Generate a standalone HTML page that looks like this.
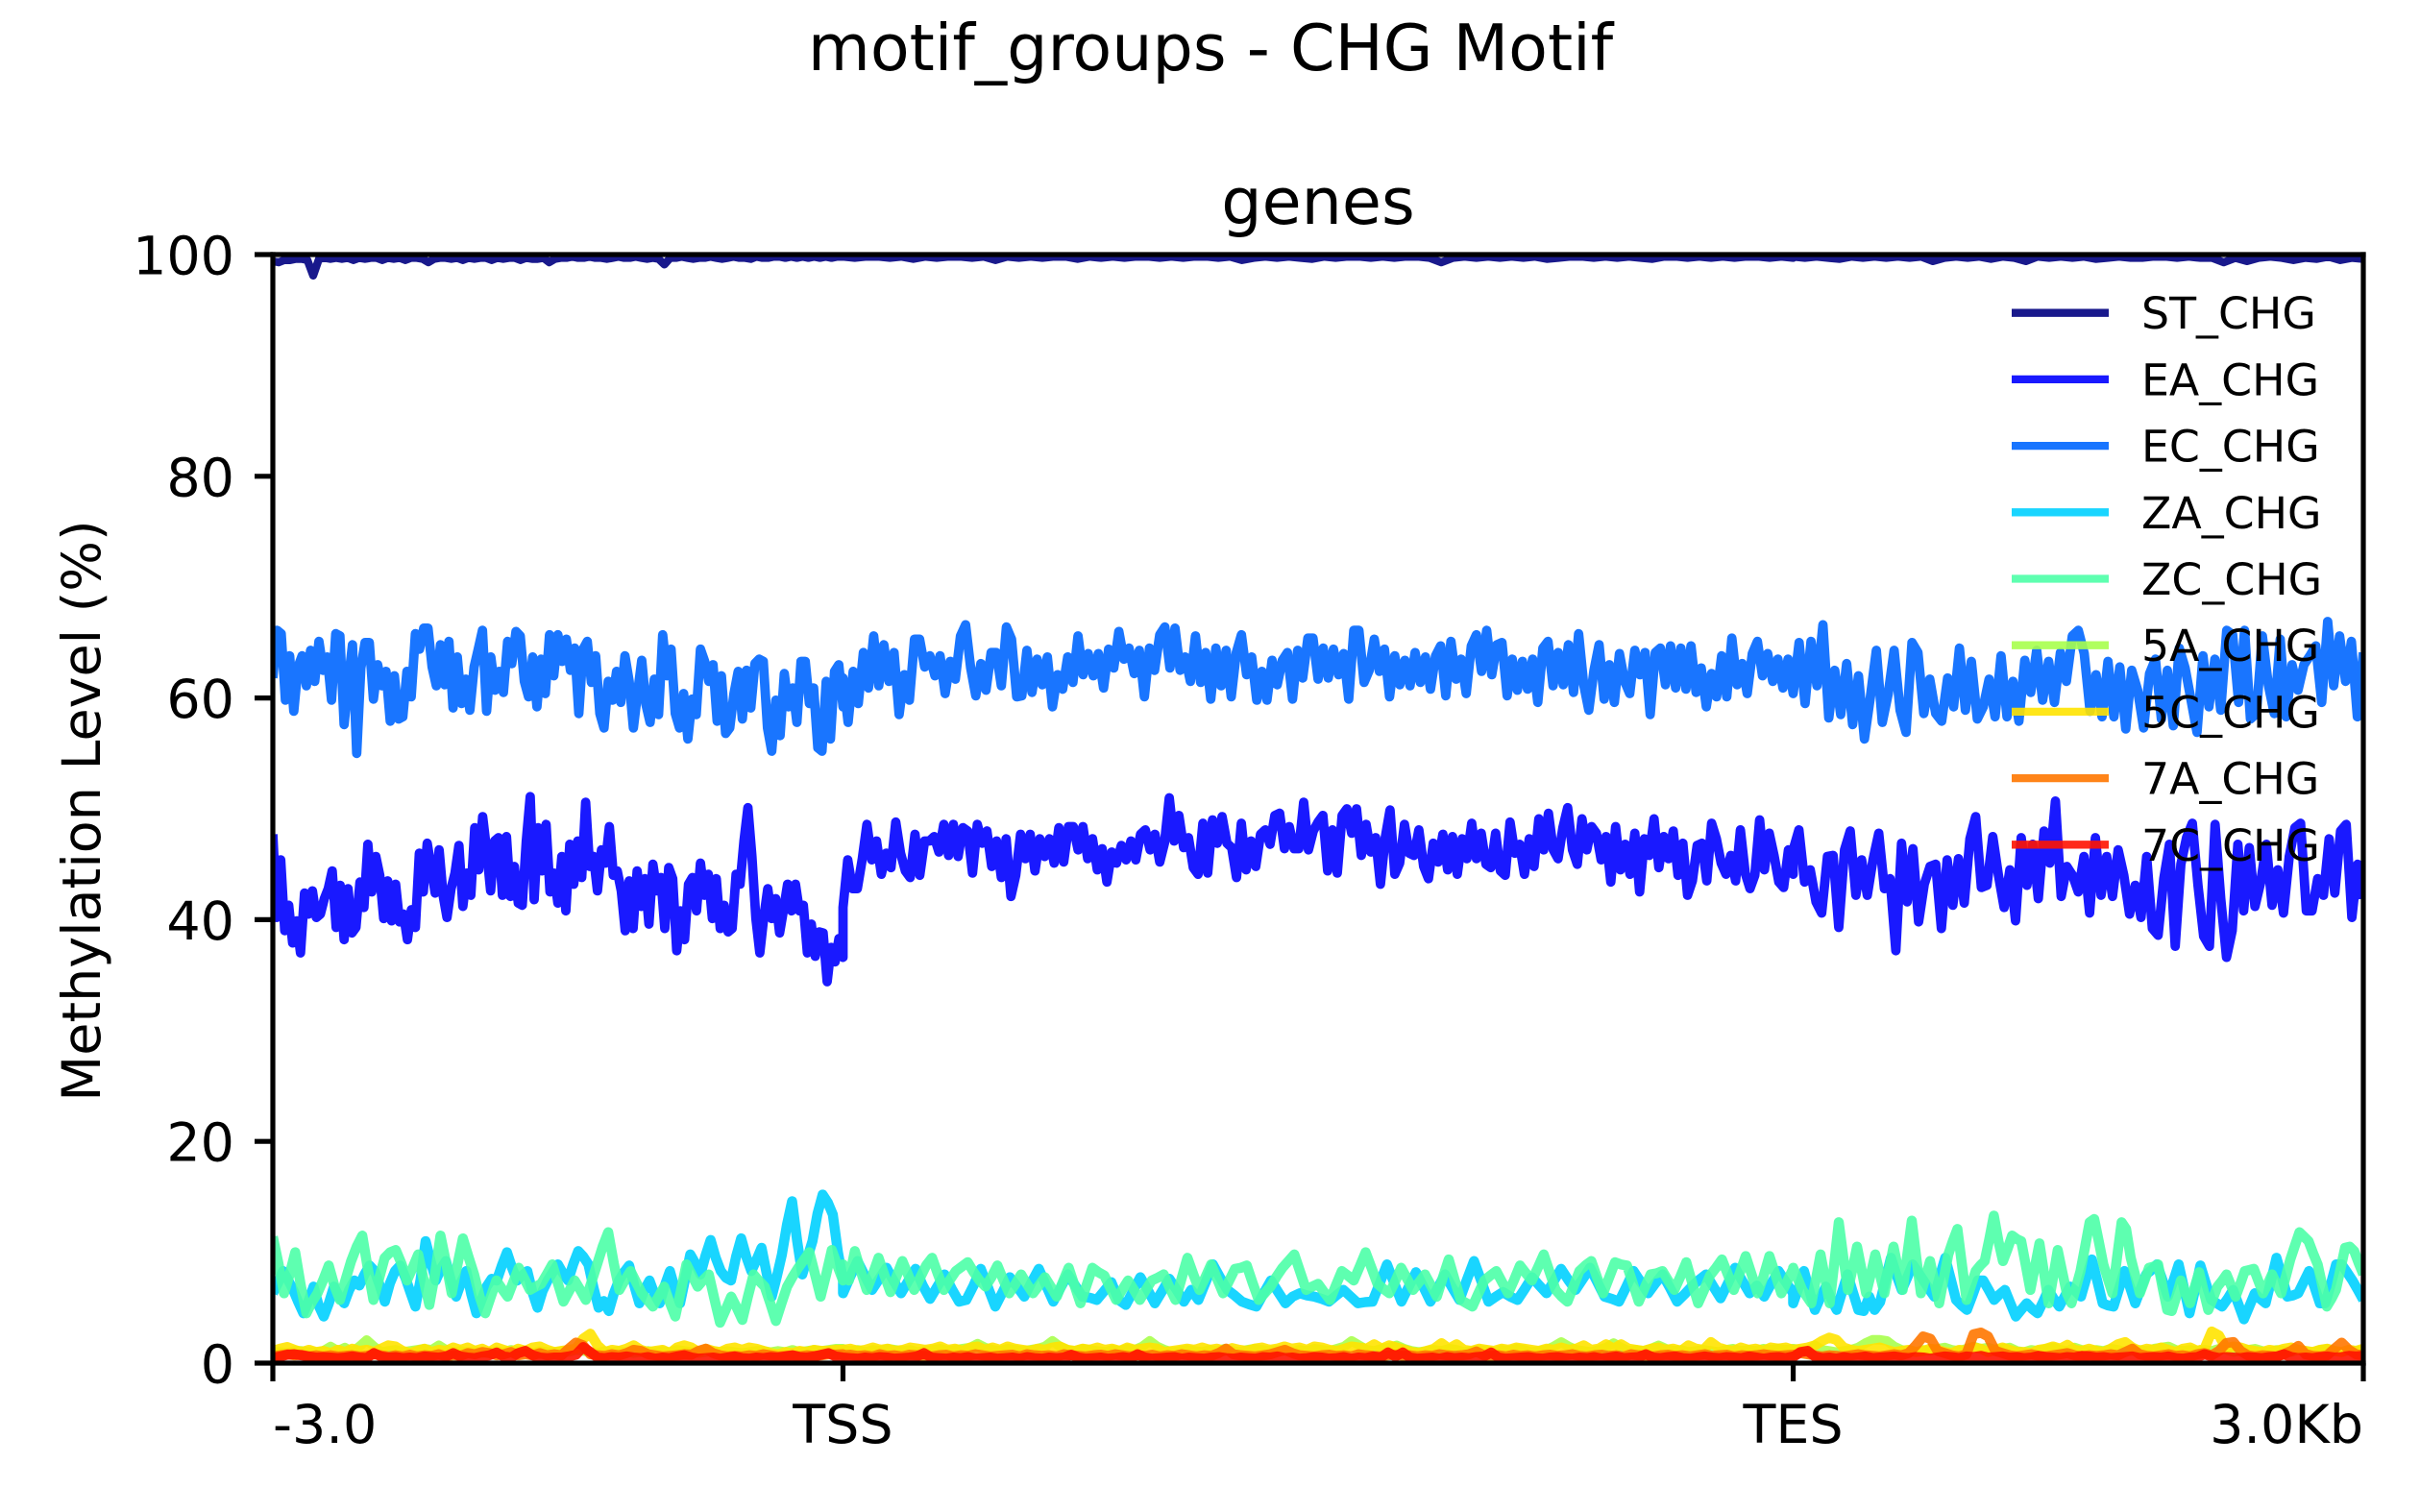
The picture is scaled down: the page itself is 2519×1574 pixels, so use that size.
<!DOCTYPE html>
<html lang="en">
<head>
<meta charset="utf-8">
<title>motif_groups - CHG Motif</title>
<style>
html,body{margin:0;padding:0;background:#fff;}
svg{display:block;}
text{font-family:"DejaVu Sans","Liberation Sans",sans-serif;fill:#000;}
</style>
</head>
<body>
<svg id="chart" xmlns="http://www.w3.org/2000/svg" width="2519" height="1574" viewBox="0 0 2519 1574">
  <rect x="0" y="0" width="2519" height="1574" fill="#ffffff"/>
  <defs><clipPath id="plot-clip"><rect x="284" y="265" width="2176" height="1154"/></clipPath></defs>
  <text x="1260" y="73" font-size="66.7" text-anchor="middle">motif_groups - CHG Motif</text>
  <text x="1372" y="233" font-size="66.7" text-anchor="middle">genes</text>
  <text transform="translate(104,844) rotate(-90)" font-size="55.5" text-anchor="middle">Methylation Level (%)</text>
  <g id="series-layer" clip-path="url(#plot-clip)"></g>
  <g id="axis-layer"></g>
  <g id="legend-layer"></g>
</svg>
<script>
const yTickValues=[0,20,40,60,80,100];
const xTickKb=[0,3,8,11];
const xTickLabels=["-3.0","TSS","TES","3.0Kb"];
const xTickAnchors=["start","middle","middle","end"];
const seriesNames=["ST_CHG","EA_CHG","EC_CHG","ZA_CHG","ZC_CHG","5A_CHG","5C_CHG","7A_CHG","7C_CHG"];
const seriesColors=["#000080","#0000ff","#0066ff","#00d0ff","#4dffa7","#a7ff4d","#ffe300","#ff7700","#ff1300"];
const seriesStrokeWidths=[8.3,9.8,9.8,10.5,10.5,10,10.5,10.5,10.5];

const ST_up=[99.4,99.3,99.5,99.5,99.6,99.6,99.5,98.1,99.6,99.7,99.6,99.7,99.6,99.7,99.5,99.7,99.6,99.7,99.7,99.5,99.7,99.6,99.7,99.5,99.7,99.7,99.6,99.3,99.6,99.7,99.7,99.6,99.7,99.5,99.7,99.6,99.7,99.7,99.5,99.7,99.6,99.7,99.7,99.5,99.7,99.6,99.6,99.7,99.3,99.6,99.7,99.7,99.8,99.7,99.7,99.8,99.7,99.7,99.6,99.7,99.8,99.7,99.7,99.8,99.7,99.6,99.7,99.6,99.1,99.7,99.7,99.8,99.7,99.6,99.7,99.7,99.8,99.7,99.6,99.7,99.8,99.7,99.7,99.6,99.8,99.7,99.7,99.8,99.8,99.7,99.8,99.7,99.8,99.7,99.8,99.7,99.8,99.7,99.8,99.8];
const ST_body=[99.8,99.7,99.8,99.8,99.7,99.8,99.6,99.8,99.7,99.8,99.8,99.7,99.8,99.5,99.8,99.7,99.8,99.7,99.8,99.8,99.6,99.8,99.7,99.8,99.7,99.8,99.8,99.7,99.8,99.7,99.8,99.8,99.7,99.8,99.5,99.7,99.8,99.7,99.8,99.7,99.6,99.8,99.7,99.8,99.8,99.7,99.8,99.7,99.8,99.8,99.7,99.3,99.7,99.8,99.7,99.8,99.7,99.8,99.7,99.8,99.6,99.7,99.8,99.8,99.7,99.8,99.7,99.8,99.7,99.6,99.8,99.8,99.7,99.8,99.7,99.8,99.7,99.8,99.8,99.7,99.8,99.7];
const ST_down=[99.8,99.7,99.8,99.7,99.6,99.8,99.7,99.8,99.7,99.8,99.7,99.8,99.4,99.7,99.8,99.7,99.8,99.6,99.8,99.7,99.4,99.8,99.7,99.8,99.7,99.8,99.6,99.7,99.8,99.7,99.7,99.8,99.8,99.7,99.8,99.7,99.7,99.3,99.7,99.4,99.7,99.8,99.7,99.5,99.7,99.6,99.8,99.5,99.7,99.6];

const EA_up=[47.7,40.2,45.4,39.0,41.3,37.9,39.9,37,42.4,40.5,42.6,40.2,40.5,41.9,42.8,44.4,39.3,43.1,38.2,42.8,38.8,39.3,43.4,41.1,46.8,42.5,45.7,44,40.1,43.5,39.9,43.2,39.8,40.5,38.2,40.9,39.3,46,42.5,46.9,44.7,42.4,46.3,42.2,40.2,42.8,44.2,46.7,41.2,44.2,42.2,48.3,44.5,49.3,46.3,42.6,47.1,47.4,42.2,47.5,42.1,44.8,41.5,41.3,47.1,51.1,41.8,48.3,44.4,48.6,42.5,44.2,41.5,45.7,40.8,46.8,43.2,47.1,43.8,50.6,44.8,45.7,42.6,46.3,45.1,48.4,44,44.4,42.6,39,43.5,39.2,44.4,41.2,43.7,39.6,45,42.6,43.8,39.2,44.7,43.7,37.2,40.8,38.2,43.2,43.8,40.8,45.1,42.2,44.1,40.1,43.7,39.2,41.3,38.9,39.2,44.1,43.2,47.1,50.1,45.7,40.1,37,40.2,42.8,40.1,41.9,38.8,40.9,43.2,40.8,43.2,40.8,41.3,37,39.6,36.7,38.9,38.8,34.4,37.5,36.2,38.3,36.6];
const EA_body=[41.1,45.4,42.8,42.8,45.4,48.6,45.4,47.1,44.1,46,44.7,48.8,46,44.4,43.8,47.7,44,47.1,47.1,47.5,46.1,48.6,45.8,48.6,45.7,48.3,48,44.2,48.6,46.9,48,44.8,47.1,43.8,47.3,42.1,44,47.7,45.5,47.7,44.4,47.3,45.7,47.3,45.1,48.3,45.2,48.4,48.4,46.3,48.4,45.5,47.3,44.5,46.4,43.4,46.1,45.1,46.7,45.4,47.1,45.4,47.7,48.1,46.3,47.7,45.2,46.9,51,47.1,49.4,46.5,47.4,44.7,44.1,48.7,44.2,49,46.9,49.3,46.9,46.5,43.8,48.7,44.5,47.1,44.8,47.7,48.1,46.8,49.4,49.6,46.4,48.4,46.4,46.4,50.6,46.3,48,48.8,49.4,44.4,48.1,44.2,49.4,50,47.8,50,45.8,48.6,46.1,47.4,43.2,47.4,49.9,44.1,45.1,48.6,46,45.8,48.1,44.8,43.7,46.9,45.2,47.7,44.5,47.5,44.1,47.3,45.5,48.7,45.5,47.8,45,44.7,47.8,44.4,44,48.8,46,46.8,44.1,47.3,44.8,49.1,46.3,49.6,46.3,45.5,48.3,50.1,46.3,45,49.1,46.3,48.4,47.8,45.4,47.5,43.4,48.4,44.5,46.8,44.1,47.8,42.5,47.3,45.8,49.1,44.7,47.5,45.5,48,44,46.9,42.2,43.5,46.7,46.9,43.5,48.7,47.3,45.1,44.1,45.8,43.5,48.1,44.2,42.8,44,49,44.5,47.8,45.8,43.4,42.9,46.3,44.1];
const EA_down=[46.3,48.1,43.4,44.5,41.6,40.6,45.7,45.8,39.3,46.3,48,42.2,45.4,42.2,45.4,47.8,42.8,43.7,37.2,46.9,41.6,46.4,39.8,43.2,44.8,45,39.2,45.4,41.3,45.5,41.5,47.3,49.3,42.9,43.1,47.5,44,41.1,44.5,39.9,47.4,43.1,46.8,41.9,48,45.1,50.7,42.1,44.8,44,42.5,45.7,40.6,47.4,42.2,45.7,42.1,46.3,44,40.5,43.1,40.2,45.7,39.2,38.6,43.7,46.8,37.6,45,47.4,48.7,43.1,38.5,37.6,48.6,41.9,36.6,39,46.8,40.8,46.5,41.2,43.4,46.8,41.3,44.5,40.6,45.7,48.3,48.7,40.8,40.8,43.7,42.2,47.3,42.4,48,48.6,40.2,45,41.9];

const EC_up=[61.8,66.1,65.8,59.8,63.8,58.8,62.8,63.8,61.1,64.3,61.5,65.1,62.5,63.7,59.8,65.8,65.6,57.6,61.4,64.8,55,62.7,65,65,59.9,63,61.1,62.4,57.9,62,58.1,58.3,62.4,60.1,65.8,64.4,66.3,66.3,62.8,61.1,64.8,61.2,65.1,59.1,63.7,59.5,61.7,58.9,62.8,64.4,66.1,58.8,63.7,60.7,62.4,60.5,65.1,63.1,66,65.6,61.5,60.1,63.7,59.2,63.5,60.4,65.7,62,65.7,63.3,65.3,62.5,64.5,58.6,64.4,65.1,61.4,63.8,58.6,57.3,61.5,59.8,62.4,59.6,63.8,61.5,57.3,60.4,63.4,59.4,57.8,61.7,58.5,65.7,62,64.4,58.6,57.3,60.4,56.3,59.9,58.5,64.4,63.3,61.5,63,57.9,62,56.8,57.3,60.4,62.4,58.1,62.5,59.1,63.1,63.5,63.3,57.3,55.2,59.8,56.6,62.2,59.2,60.9,57.8,63.3,63.3,59.5,60.9,55.5,55.2,61.5,56.3,62.4,63,59.2];
const EC_body=[61.8,57.8,62.4,59.5,64.1,60.9,65.6,61.1,64.8,61.5,64.1,58.5,62.1,59.8,65.3,65.3,62.8,63.8,62,63.8,60.4,63.3,61.7,65.6,66.6,62.7,60.2,63.1,60.7,64.1,64.1,61.1,66.4,65.3,60.1,60.2,64.3,60.5,63.5,61.2,63.7,59.2,62.1,60.8,63.7,61.4,65.6,62.1,64,62,64,60.9,64.4,62.7,66,63.5,64.5,62.2,64.3,60.1,64.5,62.5,65.7,66.4,62.7,66.3,62.5,63.7,61.5,65.6,61.4,64.1,59.9,64.5,61.1,64.3,60.1,64.1,65.7,62.1,63.7,59.8,62.4,59.8,63.4,61.2,63.4,64.1,59.9,64.3,61.8,65.4,65.4,61.7,64.5,61.8,64.4,62.1,64,59.9,66.1,66.1,61.4,62.5,65.3,62.4,64.4,60.1,63.8,61.2,63.4,61.1,64.1,61.4,63.7,60.8,63.8,64.7,60.2,65.1,61.7,63.5,60.4,64.7,65.7,62.4,66.1,62.1,64.8,65,60.2,63.5,60.7,63.3,60.8,63.5,59.6,64.5,65.1,61.1,64.1,61.2,64.8,60.5,65.8,61.2,58.9,62.5,64.8,59.9,63,59.6,64,61.5,60.4,64.3,62.1,64.1,58.5,64.1,64.5,61.2,64.7,60.9,64.5,60.8,64.7,60.5,62.7,59.2,62.2,60.1,63.8,60.1,65.4,61.2,63.1,60.4,64,65.1,62,64,61.5,63.5,60.9,63.5,60.4];
const EC_down=[60.4,65,59.5,65.1,61.1,66.6,58.2,62.5,58.5,63.1,57.6,62,56.3,60.1,64.3,57.8,60.4,64.3,58.9,56.9,65,64.1,58.6,61.7,58.6,57.9,61.8,59.2,64.5,58.9,63.3,58.1,59.2,61.7,58.3,63.8,58.3,61.5,57.9,63.4,60.5,64.3,59.8,63.3,59.6,64.1,61.5,65.6,66.1,64,58.8,62.1,58.3,63.3,58.3,62.8,57.2,62.5,60.7,57.3,62.2,63.5,58.1,62.5,57.5,64.5,62.7,59.8,56.9,63.8,59.2,63.5,58.9,66.1,65.7,59.6,66.1,58.1,58.6,65.6,61.2,58.6,65.3,58.3,63,60.7,63,63.8,64.7,59.6,66.9,61.1,65.6,61.5,65.1,58.3,64.1];

const ZA_up=[6.3,7.2,8.3,7.5,6.6,5.5,4.5,5.6,6.9,5.2,4.2,5.4,6.9,6.0,5.4,6.6,7.45,7.0,8,8.8,8.3,7.0,5.55,7.2,8.3,8.8,7.75,6.4,5.1,7.5,11,9.2,7.45,8.5,9.2,7.4,6,7.3,8.3,6.2,4.5,5.7,6.9,7.6,7.45,8.8,10,8.6,7.45,7.9,8.3,6.4,5,6.5,7.45,8.2,8.9,8.1,7.45,8.9,10.1,9.6,8.9,6.8,5,5.6,4.7,6.3,7.45,8.2,8.8,7.0,5.4,6.6,7.45,6.2,5.4,7,8.3,6.7,5.4,7.6,9.8,9,8,9.7,11.1,9.5,8.3,7.7,7.45,9.6,11.25,9.6,8.3,9.3,10.4,8.1,6,7.8,9.8,12.5,14.6,11,8,9.5,11,13.5,15.2,14.5,13.4,10,7.5];
const ZA_body=[6.3,7.8,9.2,7.9,6.6,7.6,8.6,7.4,6.3,7.4,8.5,7,5.8,6.9,8,6.7,5.55,5.7,7,8.5,6.8,5.1,6.4,7.75,6.9,6,7.3,8.5,7,5.55,6.8,8,7,6,5.9,5.7,6.5,7.3,5.7,5.25,6.5,7.75,6.6,5.4,6.5,7.6,6.6,5.55,6.6,5.7,7.3,8.9,7.7,6.6,6.1,5.55,5.3,5.1,6.3,7.45,6.4,5.4,6,6.3,6.1,6,5.8,5.55,6.1,6.6,6,5.4,5.5,5.55,7.2,8.9,7.2,5.55,6.9,8.2,6.9,5.55,6.8,8,6.8,5.7,7.5,9.2,7.4,5.55,6,6.4,6,5.7,6.7,7.75,7,6.3,7.4,8.5,7.5,6.6,7.6,8.6,7.3,6,5.8,5.55,6.9,8.3,7.3,6.3,7.2,8,6.8,5.55,6.2,6.9,7.5,8,6.9,5.85,7.2,8.6,7.4,6.3,7,6,7.2,8.3,7.3,6.3];
const ZA_down=[5.4,6.8,8.3,6.5,4.8,5.9,6.9,5.8,4.8,6.4,8,6.4,4.8,4.7,6,4.8,5.5,7.5,9.5,8,6.6,7.7,8.9,8.2,7.45,6.7,6,7.8,9.5,7.6,5.7,5.2,4.8,6.1,7.45,7.45,6.6,5.7,6.2,6.6,5.4,4.2,4.8,5.4,4.9,4.5,5.5,6.6,5.8,5.1,6,6.9,6.5,6,7.7,9.35,7.4,5.4,5.2,5.1,6.7,8.3,6.9,5.4,6.7,8,8.4,8.9,7.5,6,7.4,8.9,6.7,4.5,6.6,8.8,7.2,5.7,5.4,5.1,5.8,6.6,5.3,3.95,5.1,6.3,5.8,5.4,7.4,9.5,7.8,6,6.1,6.3,7.3,8.3,6.9,5.4,5.4,7.1,8.9,8.9,8.2,7.45,6.6,5.7];

const ZC_up=[11.4,9,6.3,8,10,7,4.5,5.5,6.3,7.5,8.8,7,5.7,7.5,9.2,10.5,11.5,8.5,5.7,7.6,9.5,10,10.2,9,7.45,8.6,9.8,7.5,5.25,8,11.5,9,6.3,8.8,11.25,9.6,8,6,4.5,6,7.45,6.7,6,7.3,8.6,7.6,6.6,6.9,7.15,8,8.9,7.2,5.55,6.5,7.45,6.6,5.7,7.3,8.9,10.5,11.8,9,6.6,7.5,8.3,7.3,6.3,5.7,5.1,6,6.9,5.5,4.2,6.5,8.9,7.9,6.9,7.5,8,5.8,3.65,4.8,6,5,3.9,6,8,7.4,6.9,5.4,3.8,5.4,6.9,7.8,8.6,9.3,10,8,6,8,10.2,8.8,7.45];
const ZC_body=[8.9,7.45,10.1,8.3,6.6,8,9.5,7.9,6.4,7.8,9.2,7.9,6.6,7.7,8.8,9.5,8,6.6,7.5,8.3,8.7,9.1,8.2,7.45,6.9,7.75,8.8,7.5,6.3,7.1,8,7.1,6.3,7,7.75,6.9,6,7.3,8.6,7,5.4,7,8.6,8.2,7.9,6.8,5.7,6.6,7.45,6.6,5.7,6.6,7.45,7.7,8,6.8,5.7,7.6,9.5,8,6.6,7.7,8.9,7.6,6.3,7.4,8.5,8.6,8.8,7.2,5.7,6.3,6.9,7.8,8.6,9.2,9.8,8.2,6.6,6.9,7.15,6.4,5.7,7,8.3,7.9,7.45,8.7,10,8.6,7.15,6.7,6.3,7.4,8.6,7.6,6.6,7.3,8,7,6,7.7,9.35,7.5,5.7,5.4,5.1,6.3,7.45,7.9,8.3,7.3,6.3,7.5,8.8,8.1,7.45,8.6,9.8,8.2,6.6,6,5.55,6.9,8.3,8.8,9.2,7.7,6.3,7.7,9.1,8.9,8.8,7.2,5.55,6.8,8,8.1,8.3,7.4,6.6,7.8,9.1,7.2,5.4,6.6,7.9,8.6,9.35,8,6.6,8.1,9.65,8,6.3,7.8,9.65,8,6.3,7.4,8.5];
const ZC_down=[8.6,7.6,6.6,6,5.4,7.6,9.8,7.6,5.4,9,12.7,9.5,6.6,8.5,10.5,8.4,6.3,8,9.8,8,6.3,8.4,10.5,8.5,6.6,9.7,12.85,9.5,6.3,7.7,9.2,7.3,5.4,7.6,9.8,11,12.1,8.9,5.7,7,8.3,8.8,9.2,11.2,13.3,11,9.2,10.3,11.5,11.2,11,8.8,6.6,8.7,10.8,8.1,5.4,7.8,10.2,8.2,6.3,5.4,6.8,8.3,10.5,12.7,13,11,8.9,7.6,6.3,9.5,12.7,12.1,9.5,7.9,6.3,7.4,8.6,8.7,8.9,6.8,4.8,4.7,6,7.45,6.4,5.4,6.8,8.2,6.5,4.8,5.8,6.9,7.4,8,7,6,7.1,8.3,8.4,8.5,7.4,6.3,7.1,8,7.1,6.3,7.8,9.35,10.6,11.8,11.4,11,9.9,8.9,7,5.1,5.8,6.6,8.5,10.4,10.5,10.1,9,8];

const A5_up=[1,1,.9,1.1,1.1,1,1,1.1,1.5,1.1,1.4,1,1.5,2.08,1.5,1,1.1,1.2,1,1.1,1.2,1.3,1.2,1.6,1.2,1,1.1,1,1.1,.9,1,1.1,1,1.2,1.1,1,.9,1.1,1,1,1.1,1,1.2,1.1,1,.9,1.1,1,1.1,1,.9,1,1.1,1,1.1,1,1.2,1.1,1,.9,1,1.1,1,1.1,1,.9,1,1.1,1.1,1,1.1,1,1.2,1,1.1,1.2,1.1,1.2,1.3,1.3];
const A5_body=[1.2,1.1,1.2,1,1.2,1.1,1.3,1.2,1.1,1.2,1,1.1,1.2,1.3,1.1,1.2,1.3,1.4,1.75,1.4,1.2,1.1,1.3,1.2,1.1,1.2,1.3,1.5,2,1.5,1.2,1.1,1.3,1.2,1.1,1,1.2,1.1,1.3,1.2,1.5,2,1.5,1.2,1,1.1,1.2,1.1,1,1.2,1.1,1.3,1.1,1,1.2,1.3,1.2,1.1,1.2,1.1,1,1.2,1.1,1.3,1.2,1.1,1.3,1.5,2,1.6,1.2,1.1,1.3,1.4,1.6,1.3,1.1,1,1.1,1.2,1.1,1.3,1.2,1,1.1,1.2,1.1,1,1.2,1.1,1.3,1.2,1,1.1,1.2,1.5,1.9,1.5,1.2,1.1,1,1.2,1.4,1.8,1.4,1.1,1.2,1.1,1.3,1.6,1.3,1.1,1.2,1,1.1,1.2,1.1,1,1.2,1.3,1.1,1.2,1.1,1.3,1.2,1.3,1.2,1.3];
const A5_down=[1.3,1.2,1.1,1.6,1.2,1.1,1,1.1,1.2,1.4,1.8,2.1,2.1,2,1.5,1.2,1.1,1,1.2,1.1,1.3,1.4,1.2,1.1,1.3,1.5,1.3,1.4,1.2,1.3,1.4,1.1,1,1.2,1.1,1.3,1.4,1.2,1.1,1.4,1.2,1.1,1.2,1.1,1.3,1.2,1,1.1,1.2,1.1,1.3,1.4,1.5,1.2,1.1,1.2,1.1,1.2,1.1,1.3,1.2,1,1.1,1.2,1.3,1.1,1,1.2,1.1,1,1.2,1.1,1,1.2,1.3,1.1,1,1.2,1.1,1.2];
const C5_up=[1.1,1.3,1.45,1.2,1,1.2,1,1.1,.9,1.2,1,1.3,1.1,1.2,1,1.3,1.6,1.5,1.1,.9,1.1,1.3,1,1.2,1.1,1.4,1.2,1.4,1.1,1.3,1,1.4,1.2,1,1.3,1.1,1.4,1.5,1.2,1,1.1,1.2,1.3,2.2,2.65,1.6,1,1.2,1.1,1.3,1.6,1.2,1,1.1,1.2,.9,1.4,1.6,1.4,1,1.3,1.1,1,1.3,1.4,1.2,1.4,1.3,1.1,.9,.8,1,.9,1.1,1,1.2,1.1,1.1,1.2,1.2];
const C5_body=[1.2,1.3,1.1,1.2,1.4,1.2,1.3,1.1,1.2,1.4,1.3,1.2,1.3,1.5,1.2,1.3,1.1,1.4,1.5,1.2,1.4,1.2,1.5,1.3,1.2,1.1,1.3,1.2,1.4,1.5,1.2,1.1,1.3,1.2,1.4,1.2,1.3,1.1,1.4,1.2,1.3,1.4,1.3,1,1.1,1.2,1.3,1.2,1.4,1.2,1.3,1.1,1.35,1.2,1.1,1.3,1.4,1.2,1.3,1.5,1.3,1.4,1.2,1.5,1.4,1.2,1.1,1.3,1.5,1.4,1.3,1.7,1.3,1.6,1.4,1.2,1,.9,1.1,1.3,1.8,1.3,1.7,1.2,1.1,1.3,1.2,1.1,1.3,1.2,1.4,1.3,1.2,1.1,1.3,1.2,1.4,1.2,1.3,1.6,1.2,1.3,1.7,1.3,1.7,1.3,1.2,1.1,1.3,1.4,1.2,1.3,1.1,1.6,1.3,1.2,1.9,1.4,1.2,1.1,1.4,1.2,1.3,1.1,1.4,1.3,1.4,1.2];
const C5_down=[1.2,1.3,1.4,1.6,2,2.3,2.1,1.4,1.2,1.1,1.2,1.3,1.4,1.2,1,1.1,1.2,1,1.1,1.3,1.2,1,.9,1.2,1.1,1.4,1.3,1,1.2,1.4,1.2,1,1,.9,1.2,1.3,1.5,1.3,1.65,1.2,1.1,1.3,1.1,1,1.3,1.7,1.9,1.4,1.1,1.3,1.2,1.4,1.2,1,1.3,1.4,1.1,1.3,2.85,2.5,1.3,1.5,1.4,1.2,1.1,1,1.2,1.1,1.3,1.4,1.2,1.1,1,1.2,1.3,1.1,1,1.2,1.1,1.3];
const A7_up=[.6,.7,.8,.7,.75,.6,.7,.6,.7,.6,.65,.7,.6,.65,.8,.7,.6,.7,.6,.75,.6,.7,.65,.8,.6,.7,.65,.9,.8,1,.9,.7,.8,1,.7,.8,.7,.9,.7,.8,.7,1.3,1.85,1.6,.8,.7,.65,.8,.7,.9,1.2,1.1,.8,.7,.6,.65,.7,.8,.75,1.1,1.3,.9,.7,.6,.65,.6,.7,.65,.8,.7,.6,.65,.7,.6,.7,.65,.7,.8,.75,.8];
const A7_body=[.7,.75,.65,.7,.6,.8,.65,.7,.6,.75,.7,.65,.6,.7,.75,.6,.7,.65,.8,.7,.6,.65,.7,.75,.6,.8,.7,.65,.7,.6,.8,.7,.65,.6,.7,.75,.65,.8,.7,.6,.7,.65,.75,.6,.7,.65,.8,.7,.6,.7,.65,.9,1.3,.8,.7,.65,.6,.7,.8,1,1.2,.9,.7,.65,.6,.7,.75,.65,.7,.6,.8,.7,.65,.6,.7,.75,.65,.7,.6,.7,.65,.8,.7,.65,.7,.8,1.05,.7,.65,.7,.6,.75,.65,.7,.6,.7,.75,.65,.7,.8,.65,.6,.7,.75,.65,.7,.6,.8,.7,.65,.6,.7,.75,.65,.7,.6,.7,.8,.65,.7,.75,.6,.7,.65,.7,.8,.7,.65,.7,.75];
const A7_down=[.7,.9,.8,.7,.6,.7,.65,.6,.7,.8,.7,.65,.6,.7,.8,.7,.9,1.6,2.4,2.2,1.1,.9,.7,.6,.8,2.6,2.75,2.4,1.1,.9,.7,.6,.7,.8,.65,.6,.7,.8,.9,.7,.6,.7,.65,.7,.8,.7,1,1.3,.8,.65,.6,.7,.8,.65,.7,.6,.8,.9,.7,1.1,1.8,1.9,1.1,.7,.6,.7,.65,.6,.8,1.1,1.55,.8,.65,.6,.7,1.3,1.85,1.2,.8,.7];
const C7_up=[.45,.6,.75,.8,.7,.6,.5,.55,.5,.45,.5,.6,.5,.45,.9,.6,.5,.55,.45,.5,.45,.6,.55,.5,.6,.9,.6,.5,.45,.6,.7,.95,.6,.5,.9,1.1,.7,.5,.45,.5,.5,.6,.75,1.45,1,.5,.45,.55,.5,.6,.5,.45,.55,.4,.5,.45,.6,.7,.5,.4,.45,.5,.4,.5,.6,.45,.4,.5,.45,.55,.5,.6,.7,.55,.5,.6,.75,.9,.6,.5];
const C7_body=[.5,.45,.4,.5,.45,.55,.5,.4,.45,.5,.6,.9,.5,.45,.4,.5,.45,.55,.4,.45,.5,.4,.45,.5,.4,.55,.45,.4,.5,.45,.5,.75,.5,.4,.45,.5,.4,.45,.55,.45,.8,.5,.4,.45,.5,.55,.4,.5,.45,.4,.5,.55,.45,.4,.5,.45,.4,.55,.5,.6,.45,.5,.4,.45,.55,.5,.4,.45,.55,.4,.5,.45,.6,.5,.95,.6,.95,.5,.4,.45,.5,.4,.55,.45,.5,.45,.55,.6,.95,.5,.4,.45,.5,.55,.45,.4,.5,.55,.45,.4,.5,.45,.55,.4,.5,.6,.45,.5,.55,.8,.5,.45,.55,.6,.45,.4,.5,.6,.5,.45,.55,.5,.45,.6,.5,.4,.5,.55,.45,.6];
const C7_down=[.55,1,1.1,.6,.45,.5,.4,.55,.45,.5,.6,.45,.5,.55,.6,.5,.45,.55,.5,.4,.5,.6,.55,.45,.6,.55,.65,.5,.55,.6,.5,.55,.45,.5,.65,.55,.5,.45,.55,.5,.65,.6,.5,.55,.45,.5,.55,.6,.45,.5,.55,.5,.6,.45,.4,.5,.55,.8,.6,.45,.55,.5,.45,.55,.5,.45,.55,.6,.8,.55,.45,.5,.45,.55,.6,.5,.55,.65,.6,.65];

const seriesSegments=[
  [ST_up,ST_body,ST_down],[EA_up,EA_body,EA_down],[EC_up,EC_body,EC_down],
  [ZA_up,ZA_body,ZA_down],[ZC_up,ZC_body,ZC_down],[A5_up,A5_body,A5_down],
  [C5_up,C5_body,C5_down],[A7_up,A7_body,A7_down],[C7_up,C7_body,C7_down]
];

const NS="http://www.w3.org/2000/svg";
const PLOT={left:284,right:2460,top:265,bottom:1419};
const KB_TOTAL=11;
function xScale(kb){return PLOT.left+(kb/KB_TOTAL)*(PLOT.right-PLOT.left);}
function yScale(v){return PLOT.bottom-(v/100)*(PLOT.bottom-PLOT.top);}
function segmentSpan(k){return [xTickKb[k],xTickKb[k+1]];}
function make(tag,attrs,parent){
  const el=document.createElementNS(NS,tag);
  for(const k in attrs){el.setAttribute(k,attrs[k]);}
  parent.appendChild(el);
  return el;
}
const seriesLayer=document.getElementById("series-layer");
const axisLayer=document.getElementById("axis-layer");
const legendLayer=document.getElementById("legend-layer");

seriesSegments.forEach(function(segs,si){
  const pts=[];
  segs.forEach(function(vals,k){
    const span=segmentSpan(k);
    vals.forEach(function(v,i){
      const kb=span[0]+(span[1]-span[0])*(vals.length>1?i/(vals.length-1):0);
      pts.push(xScale(kb).toFixed(1)+","+yScale(v).toFixed(1));
    });
  });
  const line=make("polyline",{points:pts.join(" "),fill:"none",stroke:seriesColors[si],"stroke-opacity":0.9,"stroke-width":seriesStrokeWidths[si],"stroke-linejoin":"round","stroke-linecap":"butt"},seriesLayer);
  
  
});

const frame=[
  ["spine-left",PLOT.left,PLOT.top,PLOT.left,PLOT.bottom],
  ["spine-right",PLOT.right,PLOT.top,PLOT.right,PLOT.bottom],
  ["spine-top",PLOT.left,PLOT.top,PLOT.right,PLOT.top],
  ["spine-bottom",PLOT.left,PLOT.bottom,PLOT.right,PLOT.bottom]
];
frame.forEach(function(f){
  const s=make("line",{x1:f[1],y1:f[2],x2:f[3],y2:f[4],stroke:"#000","stroke-width":5.2,"stroke-linecap":"square"},axisLayer);
  
  
});

yTickValues.forEach(function(v){
  const y=yScale(v);
  const t=make("line",{x1:PLOT.left-19,y1:y,x2:PLOT.left,y2:y,stroke:"#000","stroke-width":5.2},axisLayer);
  
  
  const l=make("text",{x:244,y:y+20.5,"font-size":55.5,"text-anchor":"end"},axisLayer);
  l.textContent=String(v);
  
  
});

xTickKb.forEach(function(kb,i){
  const x=xScale(kb);
  const t=make("line",{x1:x,y1:PLOT.bottom,x2:x,y2:PLOT.bottom+19,stroke:"#000","stroke-width":5.2},axisLayer);
  
  
  const l=make("text",{x:x,y:1502,"font-size":55.5,"text-anchor":xTickAnchors[i]},axisLayer);
  l.textContent=xTickLabels[i];
  
  
});

seriesNames.forEach(function(name,i){
  const y=325.7+i*69.2;
  const k=make("line",{x1:2094,y1:y,x2:2195,y2:y,stroke:seriesColors[i],"stroke-opacity":0.9,"stroke-width":8.3},legendLayer);
  
  
  const l=make("text",{x:2229,y:y+16.5,"font-size":45.8},legendLayer);
  l.textContent=name;
  
  
});
</script>
</body>
</html>
